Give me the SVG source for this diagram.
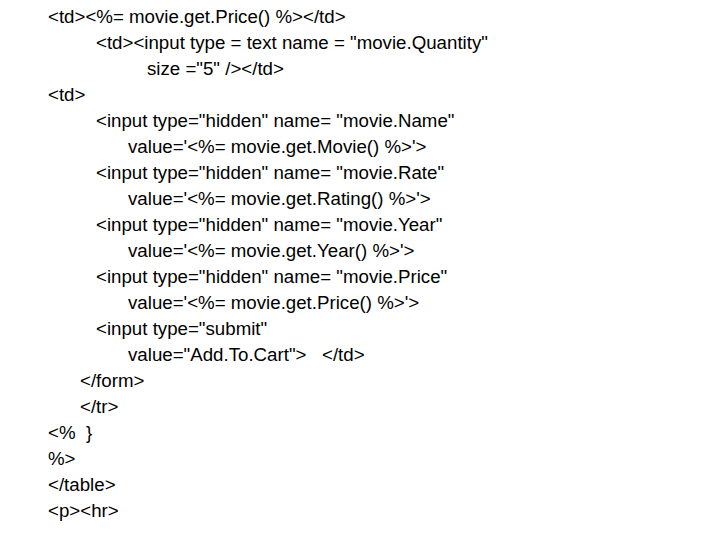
<svg xmlns="http://www.w3.org/2000/svg" width="720" height="540" viewBox="0 0 720 540">
<style>text{font-family:"Liberation Sans",Arial,sans-serif;font-size:18.7px;fill:#000;white-space:pre}</style>
<rect width="720" height="540" fill="#fff"/>
<g id="code">
<text x="48" y="23">&lt;td&gt;&lt;%= movie.get.Price() %&gt;&lt;/td&gt;</text>
<text x="96" y="49">&lt;td&gt;&lt;input type = text name = "movie.Quantity"</text>
<text x="147" y="75">size ="5" /&gt;&lt;/td&gt;</text>
<text x="48" y="101">&lt;td&gt;</text>
<text x="96" y="127">&lt;input type="hidden" name= "movie.Name"</text>
<text x="128" y="153">value='&lt;%= movie.get.Movie() %&gt;'&gt;</text>
<text x="96" y="179">&lt;input type="hidden" name= "movie.Rate"</text>
<text x="128" y="205">value='&lt;%= movie.get.Rating() %&gt;'&gt;</text>
<text x="96" y="231">&lt;input type="hidden" name= "movie.Year"</text>
<text x="128" y="257">value='&lt;%= movie.get.Year() %&gt;'&gt;</text>
<text x="96" y="283">&lt;input type="hidden" name= "movie.Price"</text>
<text x="128" y="309">value='&lt;%= movie.get.Price() %&gt;'&gt;</text>
<text x="96" y="335">&lt;input type="submit"</text>
<text x="128" y="361">value="Add.To.Cart"&gt;   &lt;/td&gt;</text>
<text x="80" y="387">&lt;/form&gt;</text>
<text x="80" y="413">&lt;/tr&gt;</text>
<text x="48" y="439">&lt;%  }</text>
<text x="48" y="465">%&gt;</text>
<text x="48" y="491">&lt;/table&gt;</text>
<text x="48" y="517">&lt;p&gt;&lt;hr&gt;</text>
</g>
</svg>
